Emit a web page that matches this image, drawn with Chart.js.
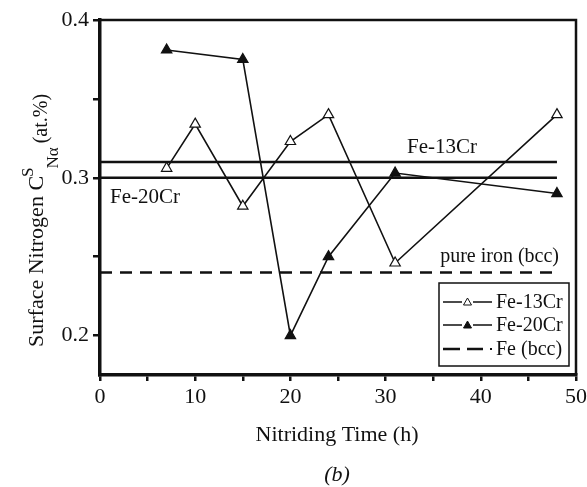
<!DOCTYPE html>
<html>
<head>
<meta charset="utf-8">
<script src="https://cdn.jsdelivr.net/npm/chart.js@4.4.0/dist/chart.umd.min.js"></script>
<style>
  html, body { margin: 0; padding: 0; background: #fff; }
  #wrap { width: 587px; height: 487px; }
</style>
</head>
<body>
<div id="wrap"><canvas id="nitrogenChart" width="587" height="487"></canvas></div>
<script>
// nitriding time (h) and surface N content (at.%)
const times13 = [7, 10, 15, 20, 24, 31, 48];
const fe13 = [0.306, 0.334, 0.282, 0.323, 0.340, 0.246, 0.340];
const times20 = [7, 15, 20, 24, 31, 48];
const fe20 = [0.381, 0.375, 0.200, 0.250, 0.303, 0.290];

// equilibrium levels (horizontal lines)
const refSpan = [0, 48];
const level13 = 0.31;
const level20 = 0.30;
const levelFe = 0.24;

const xTicks = [0, 5, 10, 15, 20, 25, 30, 35, 40, 45, 50];
const yTicks = [0.2, 0.25, 0.3, 0.35, 0.4];
const yLabels = [0.2, 0.3, 0.4];

const serif = '"Liberation Serif", "Times New Roman", serif';

function pts(xs, ys) {
  return xs.map((x, i) => ({ x: x, y: ys[i] }));
}
function flat(v) {
  return refSpan.map(x => ({ x: x, y: v }));
}

// frame, y title, labels and legend
const decorations = {
  id: 'decorations',
  afterDraw(chart) {
    const ctx = chart.ctx;
    const a = chart.chartArea;
    ctx.save();
    ctx.strokeStyle = '#111';
    ctx.lineWidth = 2.5;
    ctx.beginPath();
    ctx.moveTo(a.left, a.top);
    ctx.lineTo(a.right, a.top);
    ctx.lineTo(a.right, a.bottom);
    ctx.stroke();

    ctx.fillStyle = '#111';
    ctx.textBaseline = 'alphabetic';

    // y axis title with sub/superscript
    ctx.save();
    ctx.translate(43, 347);
    ctx.rotate(-Math.PI / 2);
    let u = 0;
    ctx.font = '22px ' + serif;
    const main = 'Surface Nitrogen C';
    ctx.fillText(main, u, 0);
    u += ctx.measureText(main).width;
    ctx.font = '17px ' + serif;
    ctx.fillText('S', u - 1, -10);
    u += ctx.measureText('S').width - 2;
    ctx.fillText('N\u03B1', u, 15);
    u += ctx.measureText('N\u03B1').width + 4;
    ctx.font = '20px ' + serif;
    ctx.fillText('(at.%)', u, 4);
    ctx.restore();

    // curve labels
    ctx.font = '21px ' + serif;
    ctx.textAlign = 'left';
    ctx.fillText('Fe-13Cr', 407, 153);
    ctx.fillText('Fe-20Cr', 110, 203);
    ctx.font = '20px ' + serif;
    ctx.textAlign = 'right';
    ctx.fillText('pure iron (bcc)', 559, 262);

    // x title and panel letter
    ctx.textAlign = 'center';
    ctx.font = '22px ' + serif;
    ctx.fillText('Nitriding Time (h)', 337, 441);
    ctx.font = 'italic 22px ' + serif;
    ctx.fillText('(b)', 337, 481);

    // legend box
    ctx.lineWidth = 1.5;
    ctx.strokeRect(439, 283, 130, 83);
    const rows = [
      { label: 'Fe-13Cr', ds: 0, y: 302 },
      { label: 'Fe-20Cr', ds: 1, y: 325 },
      { label: 'Fe (bcc)', ds: 4, y: 349 }
    ];
    rows.forEach(r => {
      const ds = chart.data.datasets[r.ds];
      ctx.strokeStyle = '#111';
      ctx.lineWidth = ds.borderDash ? ds.borderWidth : 1.5;
      if (ds.borderDash) {
        ctx.beginPath();
        ctx.moveTo(443, r.y);
        ctx.lineTo(460, r.y);
        ctx.moveTo(467, r.y);
        ctx.lineTo(483, r.y);
        ctx.stroke();
        ctx.fillRect(490, r.y - 1, 2, 2);
      } else {
        ctx.beginPath();
        ctx.moveTo(443, r.y);
        ctx.lineTo(462, r.y);
        ctx.moveTo(473, r.y);
        ctx.lineTo(492, r.y);
        ctx.stroke();
        const cx = 467.5, h = 7, w = 8;
        ctx.beginPath();
        ctx.moveTo(cx, r.y - h / 2 - 0.5);
        ctx.lineTo(cx + w / 2, r.y + h / 2 - 0.5);
        ctx.lineTo(cx - w / 2, r.y + h / 2 - 0.5);
        ctx.closePath();
        ctx.fillStyle = ds.pointBackgroundColor;
        ctx.fill();
        ctx.lineWidth = 1;
        ctx.stroke();
      }
      ctx.fillStyle = '#111';
      ctx.textAlign = 'left';
      ctx.textBaseline = 'middle';
      ctx.font = '20px ' + serif;
      ctx.fillText(r.label, 496, r.y + 1);
      ctx.textBaseline = 'alphabetic';
    });
    ctx.restore();
  }
};

new Chart(document.getElementById('nitrogenChart'), {
  type: 'line',
  data: {
    datasets: [
      {
        label: 'Fe-13Cr',
        data: pts(times13, fe13),
        borderColor: '#111',
        borderWidth: 1.6,
        pointStyle: 'triangle',
        pointRadius: 6,
        pointBorderWidth: 1.2,
        pointBackgroundColor: '#fff',
        pointBorderColor: '#111',
        tension: 0
      },
      {
        label: 'Fe-20Cr',
        data: pts(times20, fe20),
        borderColor: '#111',
        borderWidth: 1.6,
        pointStyle: 'triangle',
        pointRadius: 6,
        pointBorderWidth: 1.2,
        pointBackgroundColor: '#111',
        pointBorderColor: '#111',
        tension: 0
      },
      {
        label: 'Fe-13Cr level',
        data: flat(level13),
        borderColor: '#111',
        borderWidth: 2.5,
        pointRadius: 0
      },
      {
        label: 'Fe-20Cr level',
        data: flat(level20),
        borderColor: '#111',
        borderWidth: 2.5,
        pointRadius: 0
      },
      {
        label: 'Fe (bcc)',
        data: flat(levelFe),
        borderColor: '#111',
        borderWidth: 2.5,
        borderDash: [12, 8],
        pointRadius: 0
      }
    ]
  },
  options: {
    responsive: false,
    animation: false,
    layout: { padding: { top: 20, right: 11, left: 0, bottom: 0 } },
    plugins: {
      legend: { display: false },
      tooltip: { enabled: false }
    },
    scales: {
      x: {
        type: 'linear',
        min: 0,
        max: 50,
        afterBuildTicks: s => { s.ticks = xTicks.map(v => ({ value: v })); },
        afterFit: s => { s.height = 112; s.paddingLeft = 0; s.paddingRight = 0; },
        ticks: {
          color: '#111',
          font: { family: serif, size: 22 },
          padding: 3,
          maxRotation: 0,
          autoSkip: false,
          callback: v => (v % 10 === 0 ? String(v) : '')
        },
        grid: { drawOnChartArea: false, drawTicks: true, tickLength: 6, color: '#111', lineWidth: 2.5 },
        border: { color: '#111', width: 3.5 }
      },
      y: {
        type: 'linear',
        min: 0.175,
        max: 0.4,
        afterBuildTicks: s => { s.ticks = yTicks.map(v => ({ value: v })); },
        afterFit: s => { s.width = 100; },
        ticks: {
          color: '#111',
          font: { family: serif, size: 22 },
          padding: 4,
          autoSkip: false,
          callback: v => (yLabels.some(l => Math.abs(l - v) < 1e-6) ? v.toFixed(1) : '')
        },
        grid: { drawOnChartArea: false, drawTicks: true, tickLength: 7, color: '#111', lineWidth: 2.5 },
        border: { color: '#111', width: 3.5 }
      }
    }
  },
  plugins: [decorations]
});
</script>
</body>
</html>
